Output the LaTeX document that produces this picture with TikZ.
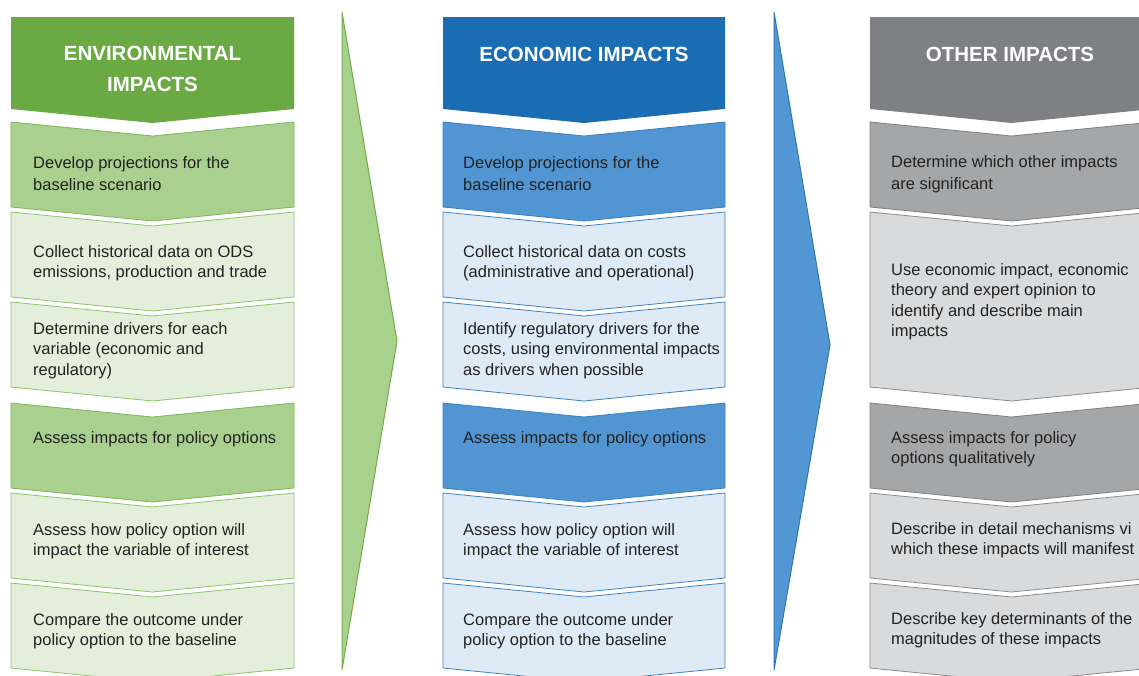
\documentclass[tikz,border=0pt]{standalone}
\usepackage{fontspec}
\setmainfont{Liberation Sans}
\definecolor{gHd}{HTML}{6AA944}
\definecolor{gMid}{HTML}{A9D08E}
\definecolor{gMidB}{HTML}{7DB857}
\definecolor{gLt}{HTML}{E3EFDA}
\definecolor{gLtB}{HTML}{8DC46A}
\definecolor{gArr}{HTML}{A9D18E}
\definecolor{gArrB}{HTML}{70AD47}
\definecolor{bHd}{HTML}{1B6DB3}
\definecolor{bMid}{HTML}{5196D2}
\definecolor{bMidB}{HTML}{3A7FC1}
\definecolor{bLt}{HTML}{DEEBF7}
\definecolor{bLtB}{HTML}{3F82C3}
\definecolor{bArr}{HTML}{5297D3}
\definecolor{bArrB}{HTML}{2E75B6}
\definecolor{kHd}{HTML}{7F8083}
\definecolor{kMid}{HTML}{A5A6A8}
\definecolor{kMidB}{HTML}{7E7F81}
\definecolor{kLt}{HTML}{D9DADC}
\definecolor{kLtB}{HTML}{8A8B8D}
\definecolor{txt}{HTML}{222222}
\newcommand\chev[5]{%
  \path[#5] (#1,#2) -- ({#1+#4/2},{#2+14}) -- ({#1+#4},#2) -- ({#1+#4},#3)
    -- ({#1+#4/2},{#3+14}) -- (#1,#3) -- cycle;}
\newcommand\hdr[3]{%
  \path[#3] (#1,17) -- ({#1+#2},17) -- ({#1+#2},109) -- ({#1+#2/2},123) -- (#1,109) -- cycle;}
\tikzset{
  body/.style={anchor=base west, inner sep=0pt, text=txt,
    font={\fontsize{16.5}{20.5}\selectfont}},
  hd/.style={anchor=base, inner sep=0pt, text=white,
    font={\fontsize{20.5}{20.5}\selectfont\bfseries}},
  gh/.style={fill=gHd},
  gm/.style={fill=gMid, draw=gMidB, line width=0.8pt},
  gl/.style={fill=gLt, draw=gLtB, line width=0.8pt},
  bh/.style={fill=bHd},
  bm/.style={fill=bMid, draw=bMidB, line width=0.8pt},
  bl/.style={fill=bLt, draw=bLtB, line width=0.8pt},
  kh/.style={fill=kHd},
  km/.style={fill=kMid, draw=kMidB, line width=0.8pt},
  kl/.style={fill=kLt, draw=kLtB, line width=0.8pt},
}
\begin{document}
\begin{tikzpicture}[x=1pt,y=-1pt]
\path[use as bounding box, fill=white] (0,0) rectangle (1139,675);
\clip (0,0) rectangle (1139,675);
% big arrows
\path[fill=gArr, draw=gArrB, line width=1pt, line join=miter] (342,12) -- (397,341) -- (342,670) -- cycle;
\path[fill=bArr, draw=bArrB, line width=1pt, line join=miter] (774,12) -- (830,345) -- (774,670) -- cycle;
% column 1
\hdr{11}{283}{gh}
\chev{11}{122}{207}{283}{gm}
\chev{11}{212}{297}{283}{gl}
\chev{11}{302}{387}{283}{gl}
\chev{11}{403}{488}{283}{gm}
\chev{11}{493}{578}{283}{gl}
\chev{11}{583}{668}{283}{gl}
% column 2
\hdr{443}{282}{bh}
\chev{443}{122}{207}{282}{bm}
\chev{443}{212}{297}{282}{bl}
\chev{443}{302}{387}{282}{bl}
\chev{443}{403}{488}{282}{bm}
\chev{443}{493}{578}{282}{bl}
\chev{443}{583}{668}{282}{bl}
% column 3
\hdr{870}{283}{kh}
\chev{870}{122}{207}{283}{km}
\chev{870}{212}{387}{283}{kl}
\chev{870}{403}{488}{283}{km}
\chev{870}{493}{578}{283}{kl}
\chev{870}{583}{668}{283}{kl}
% headers
\node[hd] (h1) at (152.5,60) {\begin{tabular}[t]{@{}c@{}}ENVIRONMENTAL\\[10.5pt]IMPACTS\end{tabular}};
\node[hd] (h2) at (584,61) {ECONOMIC IMPACTS};
\node[hd] (h3) at (1010,61) {OTHER IMPACTS};
% column 1 texts
\node[body] (e1) at (33,168) {\begin{tabular}[t]{@{}l@{}}Develop projections for the\\[1.5pt]baseline scenario\end{tabular}};
\node[body] (e2) at (33,257) {\begin{tabular}[t]{@{}l@{}}Collect historical data on ODS\\emissions, production and trade\end{tabular}};
\node[body] (e3) at (33,334) {\begin{tabular}[t]{@{}l@{}}Determine drivers for each\\variable (economic and\\regulatory)\end{tabular}};
\node[body] (e4) at (33,443) {Assess impacts for policy options};
\node[body] (e5) at (33,535) {\begin{tabular}[t]{@{}l@{}}Assess how policy option will\\impact the variable of interest\end{tabular}};
\node[body] (e6) at (33,625) {\begin{tabular}[t]{@{}l@{}}Compare the outcome under\\policy option to the baseline\end{tabular}};
% column 2 texts
\node[body] (c1) at (463,168) {\begin{tabular}[t]{@{}l@{}}Develop projections for the\\[1.5pt]baseline scenario\end{tabular}};
\node[body] (c2) at (463,257) {\begin{tabular}[t]{@{}l@{}}Collect historical data on costs\\(administrative and operational)\end{tabular}};
\node[body] (c3) at (463,334) {\begin{tabular}[t]{@{}l@{}}Identify regulatory drivers for the\\costs, using environmental impacts\\as drivers when possible\end{tabular}};
\node[body] (c4) at (463,443) {Assess impacts for policy options};
\node[body] (c5) at (463,535) {\begin{tabular}[t]{@{}l@{}}Assess how policy option will\\impact the variable of interest\end{tabular}};
\node[body] (c6) at (463,625) {\begin{tabular}[t]{@{}l@{}}Compare the outcome under\\policy option to the baseline\end{tabular}};
% column 3 texts
\node[body] (o1) at (891,167) {\begin{tabular}[t]{@{}l@{}}Determine which other impacts\\[1.5pt]are significant\end{tabular}};
\node[body] (o2) at (891,275) {\begin{tabular}[t]{@{}l@{}}Use economic impact, economic\\theory and expert opinion to\\identify and describe main\\impacts\end{tabular}};
\node[body] (o3) at (891,443) {\begin{tabular}[t]{@{}l@{}}Assess impacts for policy\\options qualitatively\end{tabular}};
\node[body] (o4) at (891,534) {\begin{tabular}[t]{@{}l@{}}Describe in detail mechanisms vi\\which these impacts will manifest\end{tabular}};
\node[body] (o5) at (891,624) {\begin{tabular}[t]{@{}l@{}}Describe key determinants of the\\magnitudes of these impacts\end{tabular}};
\end{tikzpicture}
\end{document}
